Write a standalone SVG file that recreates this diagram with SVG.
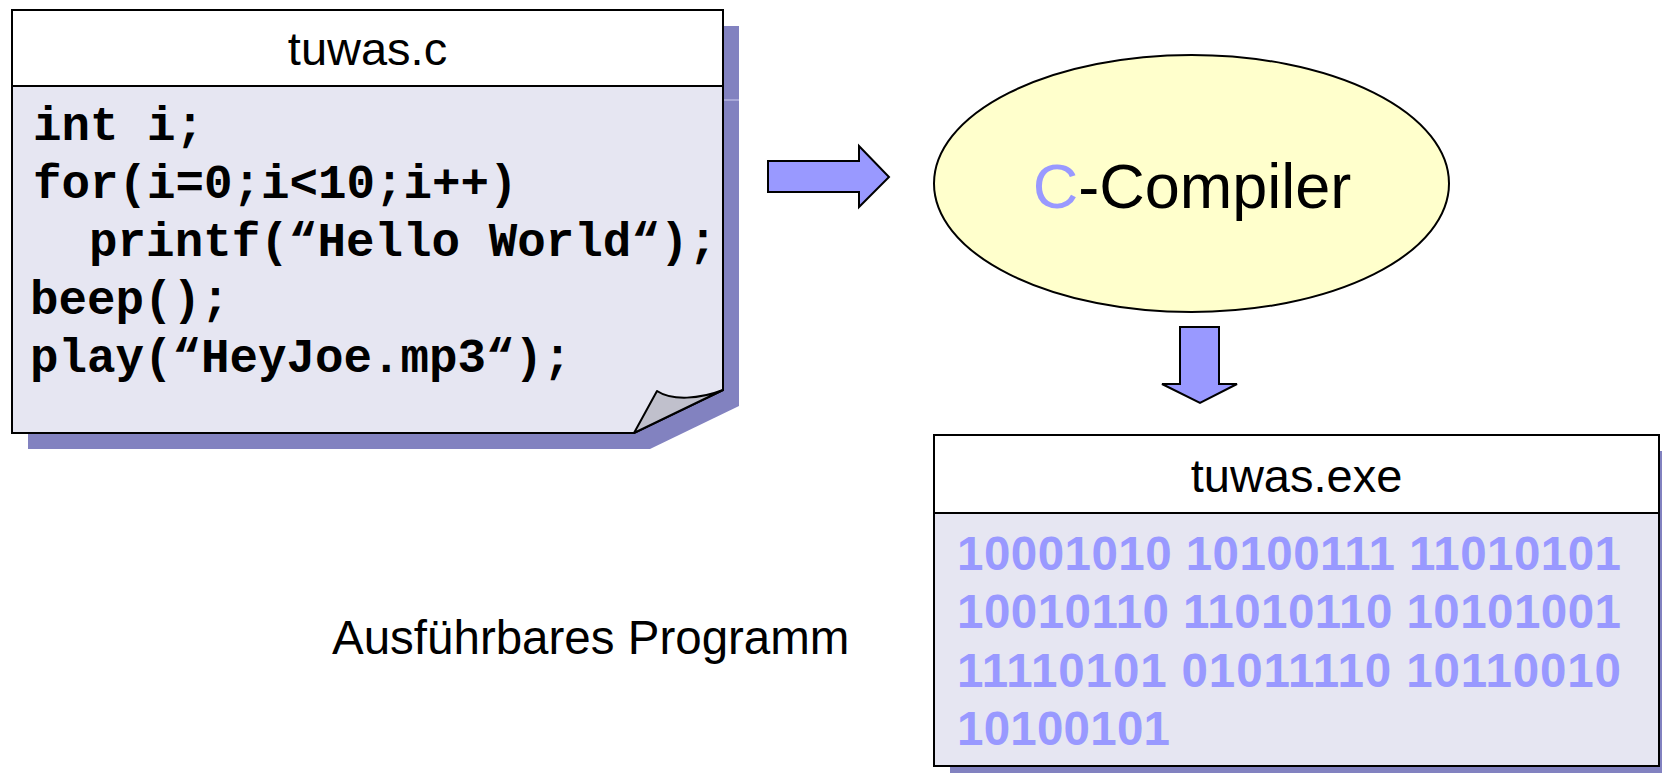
<svg xmlns="http://www.w3.org/2000/svg" width="1662" height="773" viewBox="0 0 1662 773">
<style>
.shadow{fill:#8282c0;stroke:none}
.page{fill:#e6e6f2;stroke:#000;stroke-width:2}
.head{fill:#fff;stroke:#000;stroke-width:2}
.title{font-family:"Liberation Sans",Arial,sans-serif;font-size:47px;fill:#000;text-anchor:middle}
.code{font-family:"Liberation Mono","Courier New",monospace;font-weight:bold;font-size:47.5px;fill:#000}
.bin{font-family:"Liberation Sans",Arial,sans-serif;font-weight:bold;font-size:47.5px;fill:#9999ff}
.arrow{fill:#9999ff;stroke:#000;stroke-width:2;stroke-linejoin:miter}
</style>
<rect width="1662" height="773" fill="#fff"/>
<g id="source">
  <polygon class="shadow" points="28,26 739,26 739,406 650,449 28,449"/>
  <line x1="723" y1="100" x2="739" y2="100" stroke="#a8a8d8" stroke-width="2"/>
  <polygon class="page" points="12,10 723,10 723,390 634,433 12,433"/>
  <rect class="head" x="12" y="10" width="711" height="76"/>
  <path d="M634,433 L657,391 C672,401 700,399 723,390 Z" fill="#c0c0cc" stroke="#000" stroke-width="2" stroke-linejoin="round"/>
  <text class="title" x="367.5" y="65">tuwas.c</text>
  <text class="code" x="33" y="140">int i;</text>
  <text class="code" x="33" y="198">for(i=0;i&lt;10;i++)</text>
  <text class="code" x="89" y="256" textLength="628">printf(“Hello World“);</text>
  <text class="code" x="30" y="314">beep();</text>
  <text class="code" x="30" y="372">play(“HeyJoe.mp3“);</text>
</g>
<g id="compiler">
  <ellipse cx="1191.5" cy="183.5" rx="257.5" ry="128.5" fill="#ffffcc" stroke="#000" stroke-width="2"/>
  <text x="1192" y="208" text-anchor="middle" font-family="'Liberation Sans',Arial,sans-serif" font-size="63px"><tspan fill="#9999ff">C</tspan><tspan fill="#000">-Compiler</tspan></text>
</g>
<g id="exe">
  <rect class="shadow" x="950" y="451" width="725" height="331"/>
  <rect class="page" x="934" y="435" width="725" height="331"/>
  <rect class="head" x="934" y="435" width="725" height="78"/>
  <text class="title" x="1296.5" y="492">tuwas.exe</text>
  <text class="bin" x="957" y="570" textLength="664">10001010 10100111 11010101</text>
  <text class="bin" x="957" y="628" textLength="664">10010110 11010110 10101001</text>
  <text class="bin" x="957" y="687" textLength="664">11110101 01011110 10110010</text>
  <text class="bin" x="957" y="745" textLength="213">10100101</text>
</g>
<g id="label">
  <text x="332" y="654" font-family="'Liberation Sans',Arial,sans-serif" font-size="47.5px" fill="#000">Ausführbares Programm</text>
</g>
<g id="connectors">
  <polygon class="arrow" points="768,161 859,161 859,146 889,177 859,207 859,192 768,192"/>
  <polygon class="arrow" points="1180,327 1219,327 1219,384 1237,384 1200,403 1162,384 1180,384"/>
</g>
</svg>
